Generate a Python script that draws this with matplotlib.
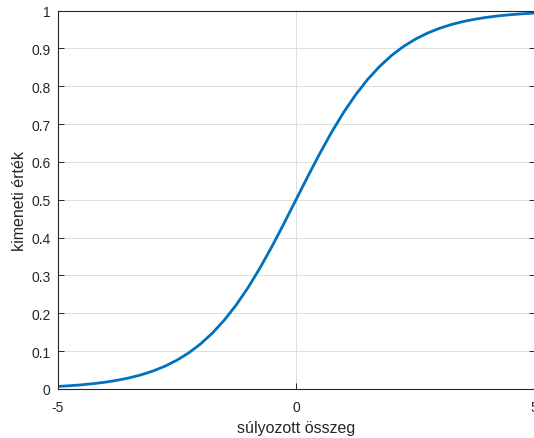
import matplotlib.pyplot as plt

plt.rcParams['font.family'] = ['Liberation Sans', 'DejaVu Sans']

# súlyozott összeg (x) és kimeneti érték (y)
x_list = [-5, -4.75, -4.5, -4.25, -4, -3.75, -3.5, -3.25, -3, -2.75, -2.5,
          -2.25, -2, -1.75, -1.5, -1.25, -1, -0.75, -0.5, -0.25, 0,
          0.25, 0.5, 0.75, 1, 1.25, 1.5, 1.75, 2, 2.25, 2.5,
          2.75, 3, 3.25, 3.5, 3.75, 4, 4.25, 4.5, 4.75, 5]
y_list = [0.0067, 0.0086, 0.0110, 0.0141, 0.0180, 0.0230, 0.0293, 0.0373, 0.0474, 0.0601, 0.0759,
          0.0953, 0.1192, 0.1480, 0.1824, 0.2227, 0.2689, 0.3208, 0.3775, 0.4378, 0.5,
          0.5622, 0.6225, 0.6792, 0.7311, 0.7773, 0.8176, 0.8520, 0.8808, 0.9047, 0.9241,
          0.9399, 0.9526, 0.9627, 0.9707, 0.9770, 0.9820, 0.9859, 0.9890, 0.9914, 0.9933]

x_ticks = [-5, 0, 5]
y_ticks = [0, 0.1, 0.2, 0.3, 0.4, 0.5, 0.6, 0.7, 0.8, 0.9, 1]
y_labels = ['0', '0.1', '0.2', '0.3', '0.4', '0.5', '0.6', '0.7', '0.8', '0.9', '1']

fig = plt.figure(figsize=(5.34, 4.39), dpi=100)
ax = fig.add_axes([57.5 / 534, 1 - 390 / 439, (534.5 - 57.5) / 534, (390 - 11.5) / 439])

ax.plot(x_list, y_list, color='#0072BD', linewidth=2)

ax.set_xlim(-5, 5)
ax.set_ylim(0, 1)
ax.set_xticks(x_ticks)
ax.set_xticklabels(['-5', '0', '5'])
ax.set_yticks(y_ticks)
ax.set_yticklabels(y_labels)
ax.grid(True, color='#dfdfdf', linewidth=0.7)
ax.set_axisbelow(True)
ax.tick_params(direction='in', length=4, width=0.7, colors='#262626', labelsize=10,
               top=False, right=True)
ax.tick_params(axis='x', pad=8)
ax.tick_params(axis='y', pad=5)

for side in ['left', 'bottom', 'top', 'right']:
    ax.spines[side].set_color('#262626')
    ax.spines[side].set_linewidth(0.8)

ax.set_xlabel('súlyozott összeg', fontsize=11.5, color='#262626', labelpad=4)
ax.set_ylabel('kimeneti érték', fontsize=11.5, color='#262626', labelpad=3)

fig.savefig('out.png', dpi=100)
